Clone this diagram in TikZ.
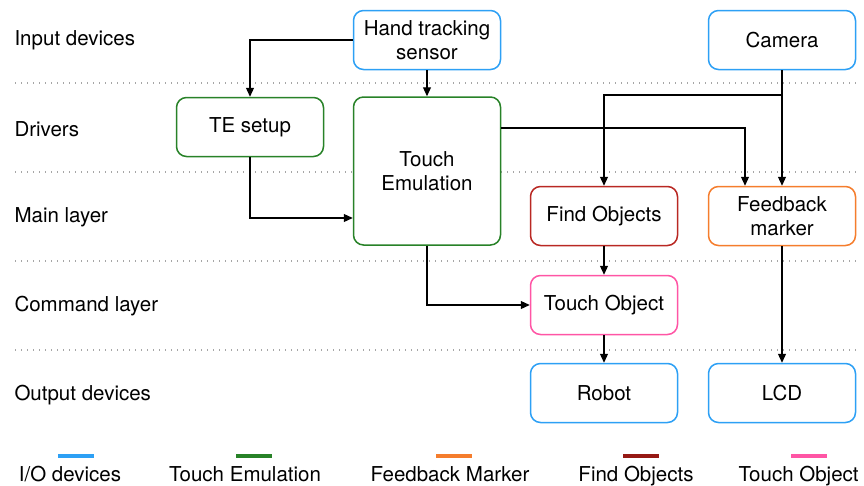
\documentclass[tikz,border=0pt]{standalone}
\usepackage{fontspec}
\setmainfont{TeX Gyre Heros}
\usetikzlibrary{arrows.meta}

\definecolor{iocol}{RGB}{45,160,245}
\definecolor{tecol}{RGB}{40,130,40}
\definecolor{fmcol}{RGB}{245,125,45}
\definecolor{focol}{RGB}{185,40,35}
\definecolor{focoldark}{RGB}{150,25,20}
\definecolor{tocol}{RGB}{255,85,165}

\begin{document}
\begin{tikzpicture}[x=1pt,y=-1pt,
        every node/.style={font=\fontsize{20.5}{23.5}\selectfont},
        box/.style={draw, line width=1.5pt, rounded corners=10pt, fill=white,
                    minimum width=147pt, minimum height=59pt, align=center, inner sep=2pt},
        conn/.style={-{Triangle[width=8pt,length=9pt]}, line width=1.2pt},
        layer/.style={gray!70, line width=1.3pt, dash pattern=on 1.3pt off 4.7pt},
        legend/.style={line width=4pt}]
        \useasboundingbox (0,0) rectangle (864,485);

        % layer separators
        \draw[layer] (15,83) -- (858,83);
        \draw[layer] (15,172) -- (858,172);
        \draw[layer] (15,261) -- (858,261);
        \draw[layer] (15,350) -- (858,350);

        % layer names
        \node[anchor=west] (lin) at (11,40) {Input devices};
        \node[anchor=west] (ldrv) at (11,129) {Drivers};
        \node[anchor=west] (lmain) at (11,217) {Main layer};
        \node[anchor=west] (lcmd) at (11,306) {Command layer};
        \node[anchor=west] (lout) at (11,395) {Output devices};

        % boxes
        \node[box, draw=iocol] (hand) at (427,40) {Hand tracking\\sensor};
        \node[box, draw=iocol] (camera) at (782,40) {Camera};
        \node[box, draw=tecol] (tesetup) at (250,127) {TE setup};
        \node[box, draw=tecol, minimum height=148pt] (touchemu) at (427,171) {Touch\\Emulation};
        \node[box, draw=focol] (findobj) at (604,216) {Find Objects};
        \node[box, draw=fmcol] (feedback) at (782,216) {Feedback\\marker};
        \node[box, draw=tocol] (touchobj) at (604,305) {Touch Object};
        \node[box, draw=iocol] (robot) at (604,393) {Robot};
        \node[box, draw=iocol] (lcd) at (782,393) {LCD};

        % connectors
        \draw[conn] (hand.west) -| (tesetup.north);
        \draw[conn] (hand) -- (touchemu);
        \draw[conn] (tesetup.south) |- (touchemu.west |- 0,218);
        \draw[conn] (camera) -- (feedback);
        \draw[conn] (camera.south |- 0,95) -| (findobj.north);
        \draw[conn] (touchemu.east |- 0,128) -| (feedback.north -| 745,0);
        \draw[conn] (findobj) -- (touchobj);
        \draw[conn] (touchemu.south) |- (touchobj.west);
        \draw[conn] (touchobj) -- (robot);
        \draw[conn] (feedback) -- (lcd);

        % legend
        \draw[legend, iocol] (58,456) -- (94,456);
        \draw[legend, tecol] (236,456) -- (272,456);
        \draw[legend, fmcol] (436,456) -- (472,456);
        \draw[legend, focoldark] (623,456) -- (659,456);
        \draw[legend, tocol] (791,456) -- (827,456);
        \node[anchor=base] (kio) at (70,481) {I/O devices};
        \node[anchor=base] (kte) at (245,481) {Touch Emulation};
        \node[anchor=base] (kfm) at (450,481) {Feedback Marker};
        \node[anchor=base] (kfo) at (636,481) {Find Objects};
        \node[anchor=base west] (kto) at (735,481) {Touch Object};
\end{tikzpicture}
\end{document}
